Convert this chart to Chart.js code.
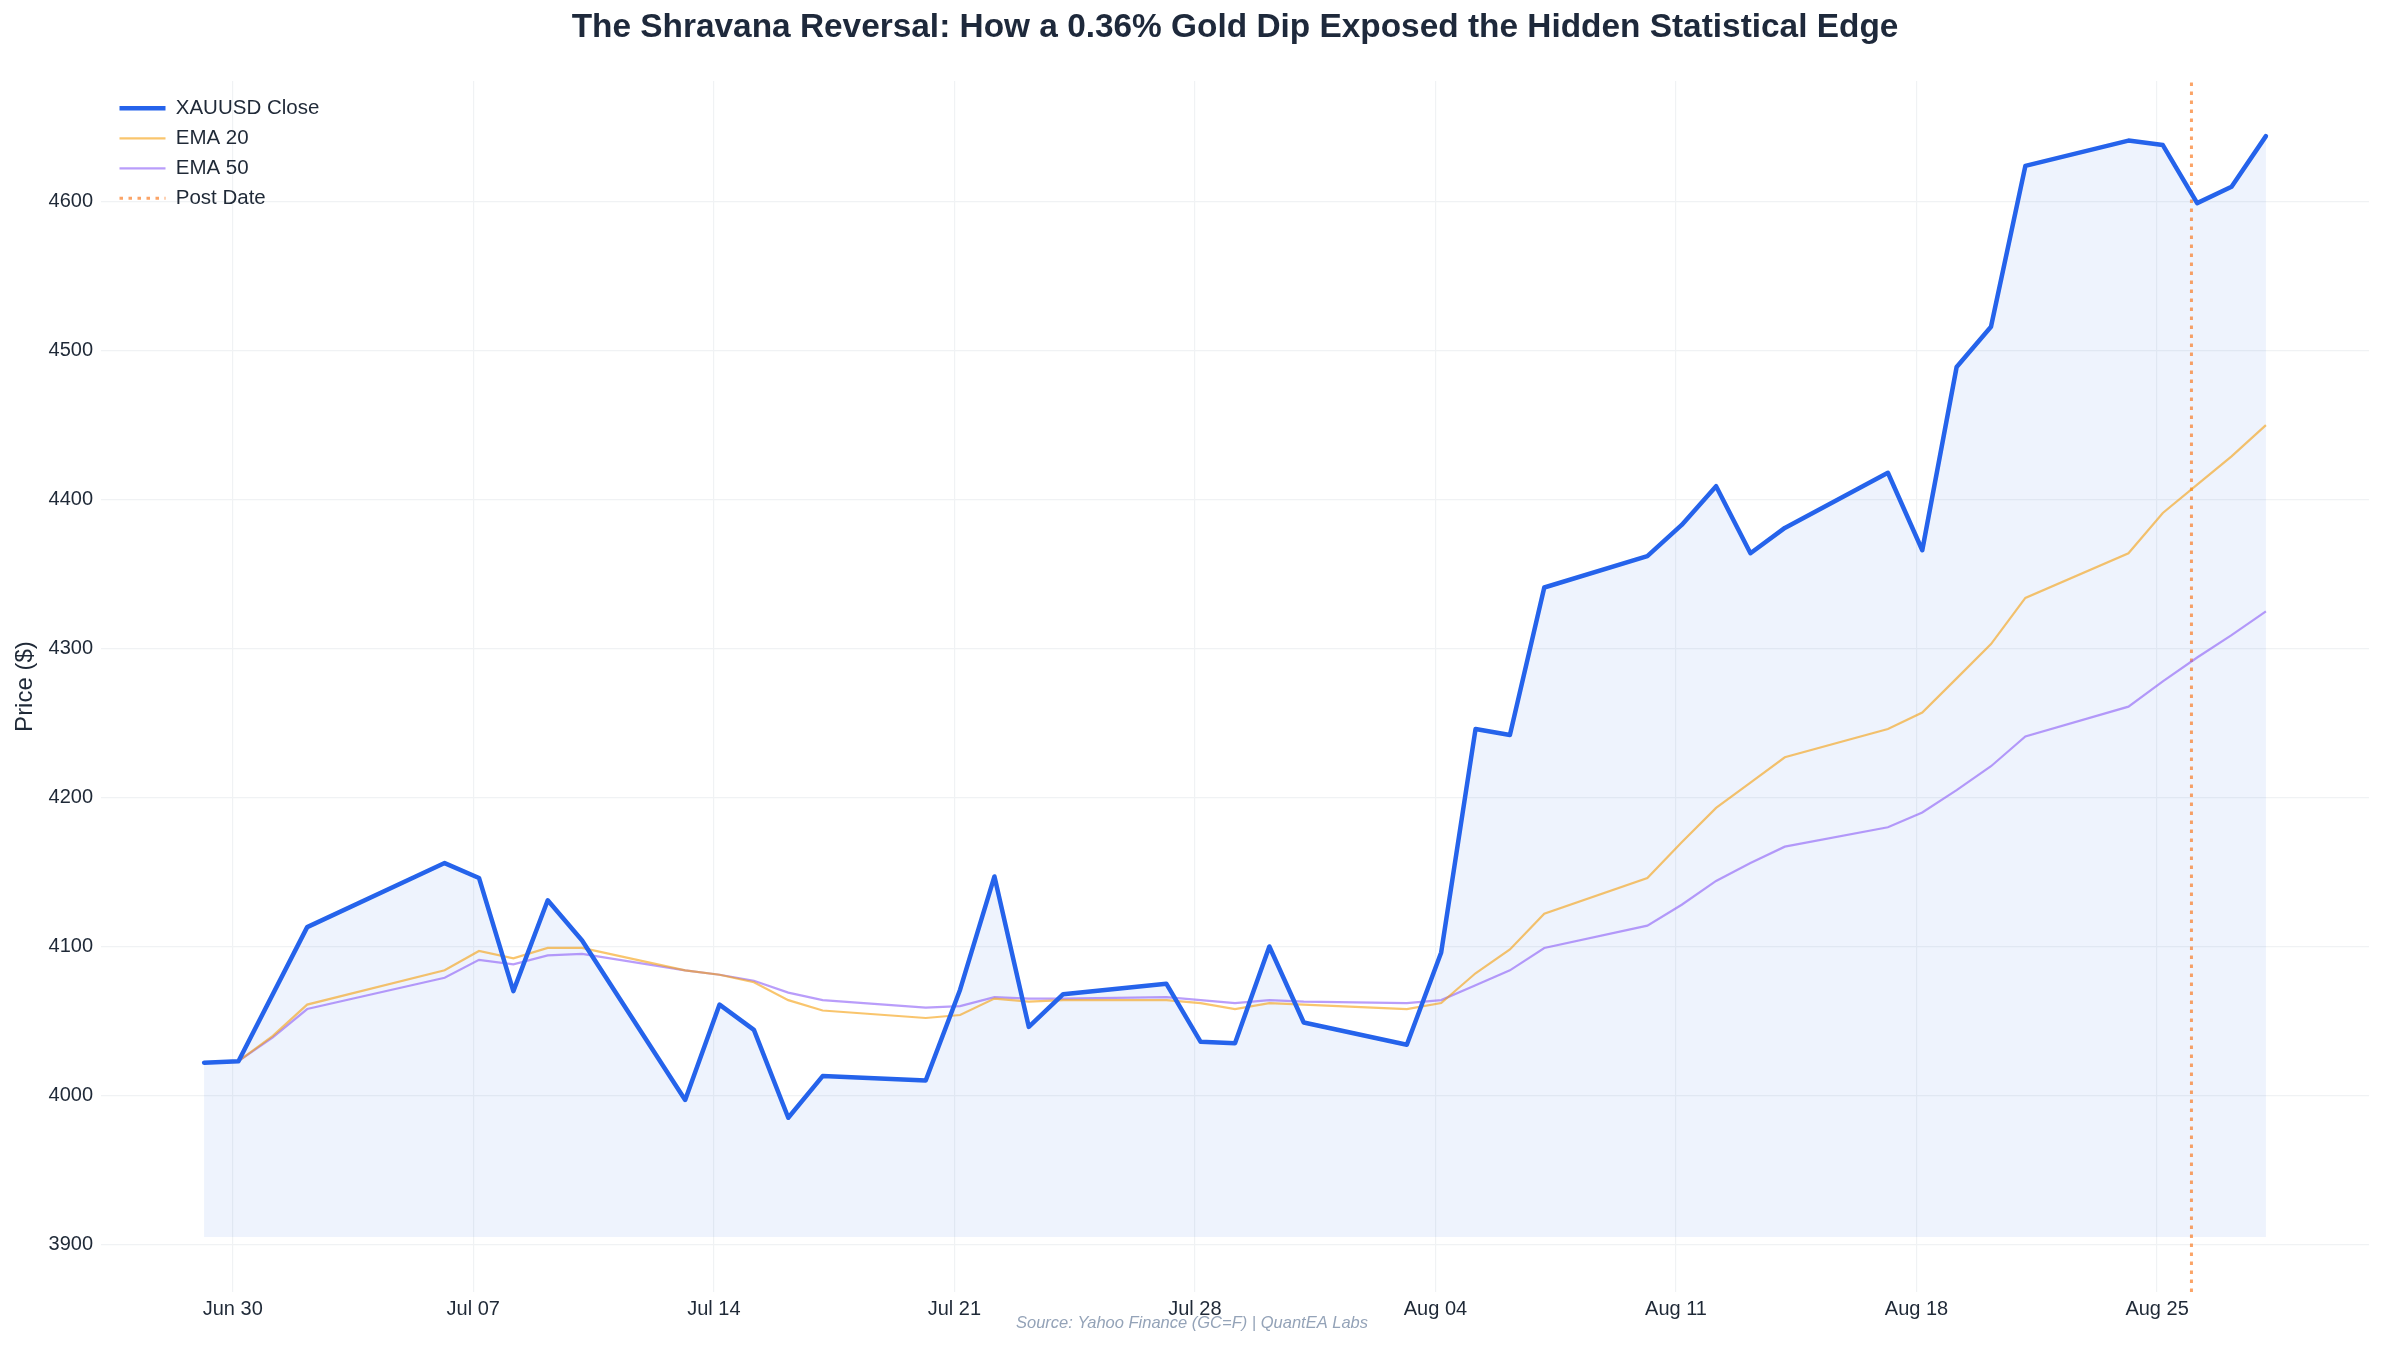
<!DOCTYPE html>
<html>
<head>
<meta charset="utf-8">
<script src="https://cdn.jsdelivr.net/npm/chart.js@4.4.1/dist/chart.umd.min.js"></script>
<style>
  html, body { margin: 0; padding: 0; background: #ffffff; }
  #wrap { width: 2384px; height: 1347px; }
</style>
</head>
<body>
<div id="wrap"><canvas id="goldChart" width="2384" height="1347"></canvas></div>
<script>
// daily bars (Yahoo timestamps sit at 04:00 UTC)
const dates = [
  "2026-06-29", "2026-06-30", "2026-07-01", "2026-07-02",
  "2026-07-06", "2026-07-07", "2026-07-08", "2026-07-09", "2026-07-10",
  "2026-07-13", "2026-07-14", "2026-07-15", "2026-07-16", "2026-07-17",
  "2026-07-20", "2026-07-21", "2026-07-22", "2026-07-23", "2026-07-24",
  "2026-07-27", "2026-07-28", "2026-07-29", "2026-07-30", "2026-07-31",
  "2026-08-03", "2026-08-04", "2026-08-05", "2026-08-06", "2026-08-07",
  "2026-08-10", "2026-08-11", "2026-08-12", "2026-08-13", "2026-08-14",
  "2026-08-17", "2026-08-18", "2026-08-19", "2026-08-20", "2026-08-21",
  "2026-08-24", "2026-08-25", "2026-08-26", "2026-08-27", "2026-08-28"
];
const barHour = "T04:00:00Z";

const closePrices = [
  4022, 4023, null, 4113,
  4156, 4146, 4070, 4131, 4104,
  3997, 4061, 4044, 3985, 4013,
  4010, 4071, 4147, 4046, 4068,
  4075, 4036, 4035, 4100, 4049,
  4034, 4096, 4246, 4242, 4341,
  4362, 4383, 4409, 4364, 4381,
  4418, 4366, 4489, 4516, 4624,
  4641, 4638, 4599, 4610, 4644
];
const ema20 = [
  null, 4023, 4040, 4061,
  4084, 4097, 4092, 4099, 4099,
  4084, 4081, 4076, 4064, 4057,
  4052, 4054, 4065, 4063, 4064,
  4064, 4062, 4058, 4062, 4061,
  4058, 4062, 4082, 4098, 4122,
  4146, 4170, 4193, 4210, 4227,
  4246, 4257, 4280, 4303, 4334,
  4364, 4391, 4410, 4429, 4450
];
const ema50 = [
  null, 4023, 4039, 4058,
  4079, 4091, 4088, 4094, 4095,
  4084, 4081, 4077, 4069, 4064,
  4059, 4060, 4066, 4065, 4065,
  4066, 4064, 4062, 4064, 4063,
  4062, 4064, 4074, 4084, 4099,
  4114, 4128, 4144, 4156, 4167,
  4180, 4190, 4205, 4221, 4241,
  4261, 4278, 4294, 4309, 4325
];
const tickDates = ["2026-06-30", "2026-07-07", "2026-07-14", "2026-07-21", "2026-07-28",
                   "2026-08-04", "2026-08-11", "2026-08-18", "2026-08-25"];
const tickLabels = ["Jun 30", "Jul 07", "Jul 14", "Jul 21", "Jul 28",
                    "Aug 04", "Aug 11", "Aug 18", "Aug 25"];
const postDate = "2026-08-26";
const fillBase = 3905;

const DAY = 86400000;
const origin = Date.parse(tickDates[0]);
function dayOf(s) { return (Date.parse(s) - origin) / DAY; }

const xs = dates.map(d => dayOf(d + barHour));
const toPoints = arr => arr.map((v, i) => ({ x: xs[i], y: v }));

// matplotlib-style 5% margins
const xPad = (xs[xs.length - 1] - xs[0]) * 0.05;
const allY = closePrices.concat(ema20, ema50, [fillBase]).filter(v => v !== null);
const yLo = Math.min(...allY), yHi = Math.max(...allY);
const yPad = (yHi - yLo) * 0.05;
const yMin = yLo - yPad, yMax = yHi + yPad;
const postDay = dayOf(postDate);

Chart.defaults.font.family = "'Liberation Sans', Arial, sans-serif";
Chart.defaults.color = "#1f2937";

const gridColor = "#f0f2f4";

new Chart(document.getElementById("goldChart"), {
  type: "line",
  data: {
    datasets: [
      {
        label: "XAUUSD Close",
        data: toPoints(closePrices),
        borderColor: "#2563eb",
        backgroundColor: "rgba(37, 99, 235, 0.08)",
        borderWidth: 4.5,
        borderJoinStyle: "round",
        borderCapStyle: "round",
        pointRadius: 0,
        spanGaps: true,
        fill: { value: fillBase },
      },
      {
        label: "EMA 20",
        data: toPoints(ema20),
        borderColor: "rgba(245, 158, 11, 0.6)",
        borderWidth: 2.2,
        pointRadius: 0,
        fill: false,
      },
      {
        label: "EMA 50",
        data: toPoints(ema50),
        borderColor: "rgba(139, 92, 246, 0.6)",
        borderWidth: 2.2,
        pointRadius: 0,
        fill: false,
      },
      {
        label: "Post Date",
        data: [{ x: postDay, y: yMin }, { x: postDay, y: yMax }],
        borderColor: "rgba(249, 115, 22, 0.65)",
        borderWidth: 3,
        borderDash: [3.5, 5.5],
        pointRadius: 0,
        fill: false,
      },
    ],
  },
  options: {
    responsive: false,
    animation: false,
    devicePixelRatio: 1,
    layout: { padding: { left: 0, right: 15, top: 0, bottom: 0 } },
    scales: {
      x: {
        type: "linear",
        min: xs[0] - xPad,
        max: xs[xs.length - 1] + xPad,
        afterBuildTicks: (scale) => {
          scale.ticks = tickDates.map(d => ({ value: dayOf(d) }));
        },
        // tall enough that the descenders of "Aug" are not clipped
        afterFit: (scale) => { scale.height = 27; },
        ticks: {
          autoSkip: false,
          maxRotation: 0,
          padding: 5,
          font: { size: 20 },
          color: "#1f2937",
          callback: (v, i) => tickLabels[i],
        },
        grid: { color: gridColor, lineWidth: 1.2, drawTicks: false },
        border: { display: false },
      },
      y: {
        min: yMin,
        max: yMax,
        afterFit: (scale) => { scale.width = 101; },
        ticks: {
          stepSize: 100,
          includeBounds: false,
          padding: 8,
          font: { size: 20 },
          color: "#1f2937",
          callback: (v) => String(v),
        },
        grid: { color: gridColor, lineWidth: 1.2, drawTicks: false },
        border: { display: false },
        title: {
          display: true,
          text: "Price ($)",
          font: { size: 24 },
          color: "#1f2937",
          padding: { top: 11, bottom: 0 },
        },
      },
    },
    plugins: {
      filler: { drawTime: "beforeDatasetsDraw" },
      tooltip: { enabled: false },
      title: {
        display: true,
        text: "The Shravana Reversal: How a 0.36% Gold Dip Exposed the Hidden Statistical Edge",
        font: { size: 33.4, weight: "bold" },
        color: "#1e293b",
        padding: { top: 8, bottom: 33 },
      },
      subtitle: {
        display: true,
        position: "bottom",
        text: "Source: Yahoo Finance (GC=F) | QuantEA Labs",
        font: { size: 16.5, style: "italic" },
        color: "#94a3b8",
        padding: { top: -5.9, bottom: 14.1 },
      },
      legend: {
        position: "chartArea",
        align: "start",
        labels: {
          usePointStyle: true,
          pointStyle: "line",
          pointStyleWidth: 46,
          padding: 9.5,
          font: { size: 20.5 },
          color: "#1f2937",
          generateLabels: (chart) => {
            const items = Chart.defaults.plugins.legend.labels.generateLabels(chart);
            items.forEach(item => {
              const ds = chart.data.datasets[item.datasetIndex];
              item.lineDash = ds.borderDash || [];
              item.lineWidth = ds.borderWidth;
              item.strokeStyle = ds.borderColor;
            });
            return items;
          },
        },
      },
    },
  },
  plugins: [{
    id: "boxPlacement",
    afterLayout(chart) {
      const area = chart.chartArea;
      // a vertical legend in the chart area keeps top = 0, so put it back inside the plot
      chart.legend.left = area.left + 9;
      chart.legend.top = area.top + 7.5;
      // title centred over the plot, source note centred on the page
      chart.titleBlock.left = area.left;
      chart.titleBlock.right = area.right;
      chart.titleBlock.width = area.right - area.left;
      const sub = chart.boxes.find(b => b.options && b.options.text === chart.options.plugins.subtitle.text);
      if (sub) {
        sub.left = 0;
        sub.right = chart.width;
        sub.width = chart.width;
      }
    },
  }],
});
</script>
</body>
</html>
